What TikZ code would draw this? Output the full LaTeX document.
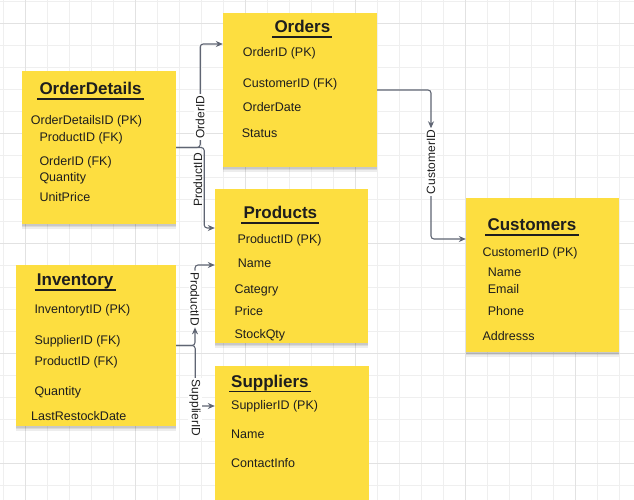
\documentclass[tikz,border=0pt]{standalone}
\usepackage{fontspec}
\setmainfont{Liberation Sans}
\usetikzlibrary{positioning}
\usetikzlibrary{arrows.meta}
\usetikzlibrary{backgrounds}
\usetikzlibrary{shadows}
\definecolor{pYellow}{HTML}{FDDE40}
\definecolor{pGrid}{HTML}{EFEFEF}
\definecolor{pGridMajor}{HTML}{E2E2E2}
\definecolor{pLine}{HTML}{5F6573}
\definecolor{pText}{HTML}{1E1E1E}
\pgfdeclarelayer{edges}
\pgfsetlayers{background,edges,main}

\begin{document}
\begin{tikzpicture}[x=1pt, y=-1pt,
  sticky/.style={fill=pYellow, inner sep=0pt, minimum width=154pt, minimum height=154pt,
    general shadow={fill=black, opacity=0.07, shadow xshift=0pt, shadow yshift=-5pt},
    general shadow={fill=black, opacity=0.08, shadow xshift=0pt, shadow yshift=-3pt},
    general shadow={fill=black, opacity=0.08, shadow xshift=0pt, shadow yshift=-1.5pt}},
  title/.style={anchor=base west, inner sep=0pt, text=pText, font=\fontsize{17}{20}\selectfont\bfseries},
  field/.style={anchor=base west, inner sep=0pt, text=pText, font=\fontsize{12.5}{15}\selectfont},
  uline/.style={draw=pText, line width=1.8pt},
  conn/.style={draw=pLine, line width=1.1pt, rounded corners=3pt, -{Stealth[length=7pt, width=6pt]}},
  lbl/.style={fill=white, inner sep=1.5pt, text=pText, font=\fontsize{12}{14}\selectfont}]

  \useasboundingbox (0,0) rectangle (634,500);
  \clip (0,0) rectangle (634,500);

  % grid
  \begin{scope}[on background layer]
    \fill[white] (0,0) rectangle (634,500);
    \foreach \k in {0,...,28} \draw[pGrid, line width=0.9pt] (3.3+22*\k,0) -- (3.3+22*\k,500);
    \foreach \k in {0,...,22} \draw[pGrid, line width=0.9pt] (0,1.3+22*\k) -- (634,1.3+22*\k);
    \foreach \k in {1,6,...,26} \draw[pGridMajor, line width=0.9pt] (3.3+22*\k,0) -- (3.3+22*\k,500);
    \foreach \k in {1,6,...,21} \draw[pGridMajor, line width=0.9pt] (0,1.3+22*\k) -- (634,1.3+22*\k);
  \end{scope}

  % tables
  \node[sticky, minimum height=153pt] (details) at (99,147.5) {};
  \node[sticky] (orders) at (300,90) {};
  \node[sticky, minimum width=153pt] (products) at (291.5,266) {};
  \node[sticky, minimum width=153pt] (customers) at (542.5,275) {};
  \node[sticky, minimum width=160pt, minimum height=161pt] (inventory) at (96,345.5) {};
  \node[sticky] (suppliers) at (292,443) {};

  \foreach \txt/\tx/\ty/\nm in {OrderDetails/39.3/94.5/details-t, Orders/274.3/32.3/orders-t,
      Products/243.3/218.3/products-t, Customers/487.3/230.7/customers-t,
      Inventory/36.7/285.3/inventory-t, Suppliers/231/387/suppliers-t} {
    \node[title] (\nm) at (\tx,\ty) {\txt};
    \draw[uline] ([xshift=-2pt, yshift=-4.5pt]\nm.base west) -- ([xshift=2pt, yshift=-4.5pt]\nm.base east);
  }

  \foreach \txt/\fx/\fy [count=\i] in {OrderDetailsID (PK)/30.7/124.3, ProductID (FK)/39.3/141.7,
      OrderID (FK)/39.3/165, Quantity/39.3/181, UnitPrice/39.3/201.7}
    \node[field] (det-\i) at (\fx,\fy) {\txt};
  \foreach \txt/\fx/\fy [count=\i] in {OrderID (PK)/242.7/56.7, CustomerID (FK)/242.7/87.3,
      OrderDate/242.7/111.7, Status/241.7/137.3}
    \node[field] (ord-\i) at (\fx,\fy) {\txt};
  \foreach \txt/\fx/\fy [count=\i] in {ProductID (PK)/237.3/243.3, Name/237.7/267.3,
      Categry/234.3/293.3, Price/234.3/315.7, StockQty/234.3/338}
    \node[field] (prod-\i) at (\fx,\fy) {\txt};
  \foreach \txt/\fx/\fy [count=\i] in {CustomerID (PK)/482.3/256, Name/487.7/276,
      Email/487.7/293.3, Phone/487.7/315.7, Addresss/482.3/340.7}
    \node[field] (cust-\i) at (\fx,\fy) {\txt};
  \foreach \txt/\fx/\fy [count=\i] in {InventorytID (PK)/34.3/313.3, SupplierID (FK)/34.3/344.3,
      ProductID (FK)/34.3/365, Quantity/34.3/395.7, LastRestockDate/31/420.7}
    \node[field] (inv-\i) at (\fx,\fy) {\txt};
  \foreach \txt/\fx/\fy [count=\i] in {SupplierID (PK)/231/409.3, Name/231/438.3, ContactInfo/231/467.7}
    \node[field] (sup-\i) at (\fx,\fy) {\txt};

  % connector labels
  \node[lbl, rotate=90] (oid-lab) at (200,117) {OrderID};
  \node[lbl, rotate=90, anchor=south, fill=none] (pid-lab) at (204,180) {ProductID};
  \node[lbl, rotate=90] (cust-lab) at (431,162) {CustomerID};
  \node[lbl, rotate=-90] (inv-pid-lab) at (195,299) {ProductID};
  \node[lbl, rotate=-90] (inv-sid-lab) at (195,408) {SupplierID};

  \begin{pgfonlayer}{edges}
    \draw[conn] (details.east) -- ++(24,0) |- ([yshift=46pt]orders.west);
    \draw[conn] (details.east) -- ++(28,0) |- ([yshift=38pt]products.west);
    \draw[conn] (orders.east) -| (cust-lab.east);
    \draw[conn] (cust-lab.west) |- ([yshift=36pt]customers.west);
    \draw[conn] (inventory.east) -| (inv-pid-lab.east);
    \draw[conn] (inv-pid-lab.west) |- ([yshift=1pt]products.west);
    \draw[conn] (inventory.east) -- ++(19,0) |- ([yshift=37pt]suppliers.west);
  \end{pgfonlayer}
\end{tikzpicture}
\end{document}
